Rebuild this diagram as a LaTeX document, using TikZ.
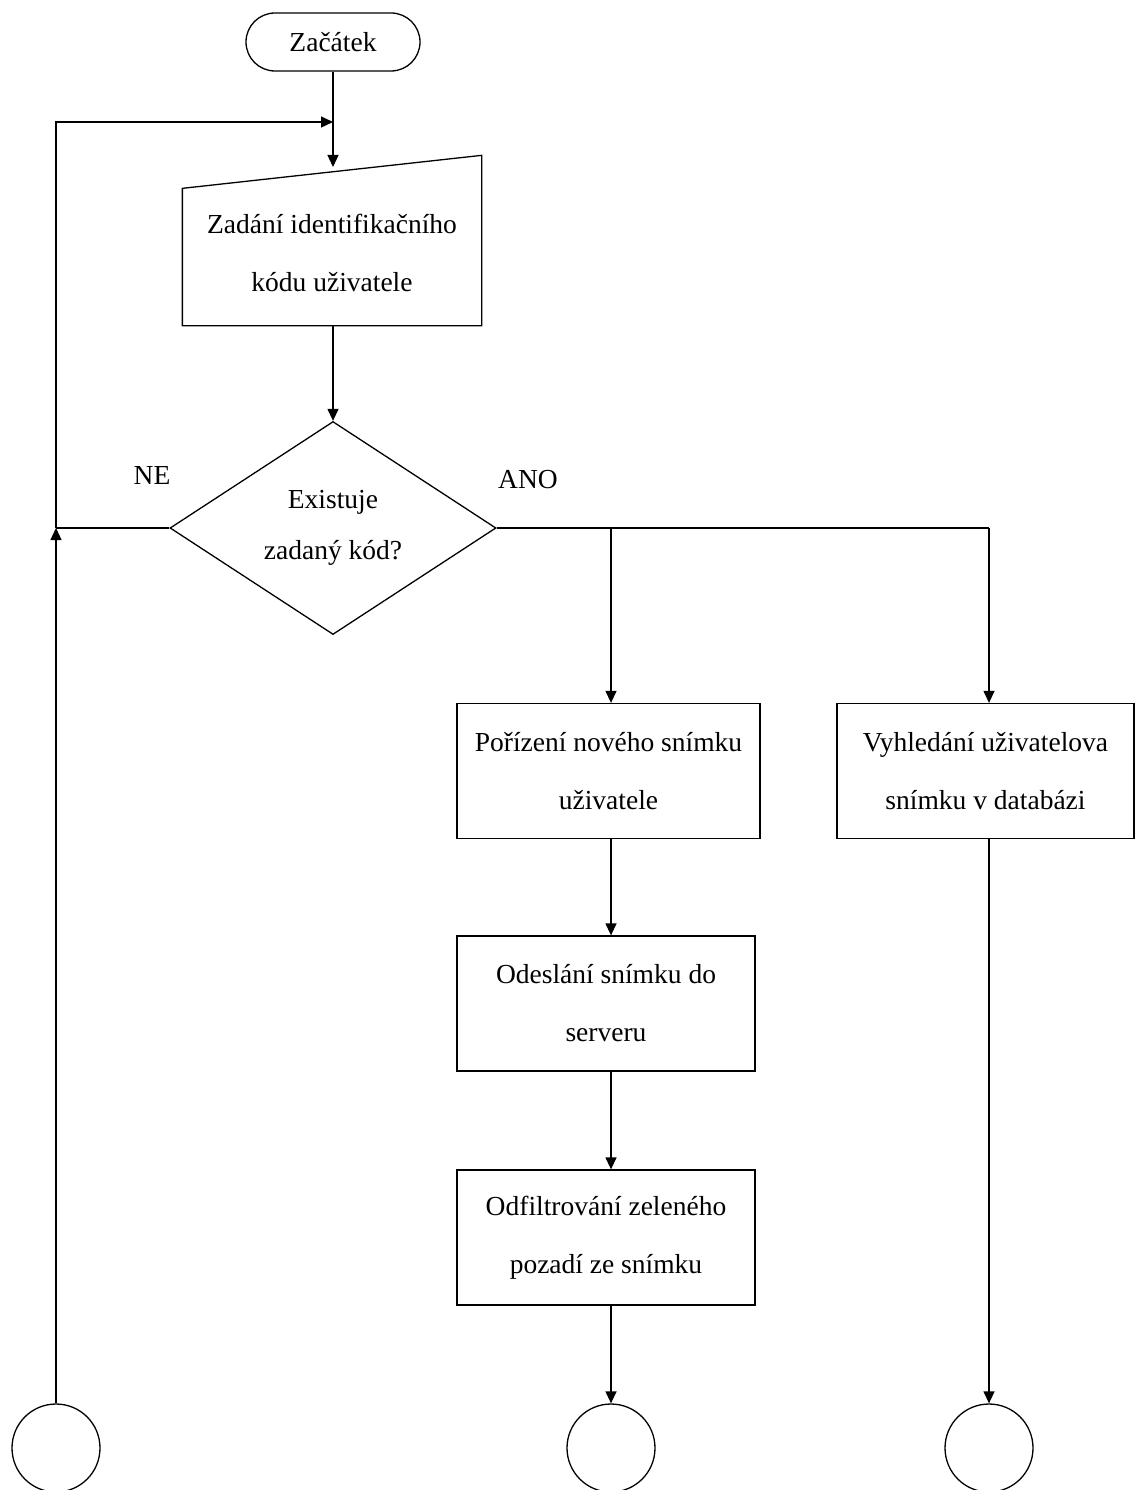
\documentclass[tikz,border=0pt]{standalone}
\usepackage{fontspec}
\setmainfont{Liberation Serif}
\usetikzlibrary{shapes.geometric,arrows.meta,calc}
\begin{document}
\begin{tikzpicture}[x=1pt,y=-1pt,
  line width=1.3pt,
  every node/.style={font=\fontsize{27.5}{58}\selectfont, align=center, inner sep=0pt},
  arr/.style={-{Triangle[length=12pt,width=11pt]}},
  procbox/.style={draw, rectangle, minimum height=135pt},
  term/.style={draw, rectangle, rounded corners=29pt, minimum width=174pt, minimum height=58pt},
  conn/.style={draw, circle, minimum size=88pt},
  decision/.style={draw, diamond, minimum width=326pt, minimum height=213pt, aspect=1.5,
    font=\fontsize{27.5}{51}\selectfont},
  lbl/.style={font=\fontsize{27.5}{30}\selectfont}]
\useasboundingbox (0,0) rectangle (1135,1490);

% start terminator
\node[term] (start) at (333,42) {Začátek};

% manual input: node holds the text, its outline has a slanted top edge
\node[minimum width=298pt, minimum height=144pt] (input) at (332,253)
  {Zadání identifikačního\\kódu uživatele};
\draw (input.south west) -- (input.south east) -- ($(input.north east)+(0,-25)$)
  -- ($(input.north west)+(0,8)$) -- cycle;
\coordinate (inTop) at (333,167);

% decision
\node[decision] (dec) at (333,528) {Existuje\\zadaný kód?};
\node[lbl] (ne) at (152,475) {NE};
\node[lbl] (ano) at (528,480) {ANO};

% process boxes
\node[procbox, minimum width=303pt] (take) at (608.5,771) {Pořízení nového snímku\\uživatele};
\node[procbox, minimum width=297pt] (find) at (985.5,771) {Vyhledání uživatelova\\snímku v databázi};
\node[procbox, minimum width=298pt] (send) at (606,1003.5) {Odeslání snímku do\\serveru};
\node[procbox, minimum width=298pt] (filt) at (606,1237.5) {Odfiltrování zeleného\\pozadí ze snímku};

% off-page connectors
\node[conn] (cL) at (56,1448) {};
\node[conn] (cM) at (611,1448) {};
\node[conn] (cR) at (989,1448) {};

% helper points
\coordinate (loopJoin) at (333,122);
\coordinate (leftJoin) at (56,528);
\coordinate (splitM) at (611,528);
\coordinate (splitR) at (989,528);

% connectors
\draw[arr] (start.south) -- (inTop);
\draw[arr] (input.south -| inTop) -- (dec.north);
\draw (dec.west) -- (leftJoin);
\draw[arr] (cL.north) -- (leftJoin);
\draw[arr] (leftJoin) -- (leftJoin |- loopJoin) -- (loopJoin);
\draw (dec.east) -- (splitR);
\draw[arr] (splitM) -- (splitM |- take.north);
\draw[arr] (splitR) -- (find.north -| splitR);
\draw[arr] (take.south -| splitM) -- (send.north -| splitM);
\draw[arr] (send.south -| splitM) -- (filt.north -| splitM);
\draw[arr] (filt.south -| splitM) -- (cM.north);
\draw[arr] (find.south -| splitR) -- (cR.north);
\end{tikzpicture}
\end{document}
